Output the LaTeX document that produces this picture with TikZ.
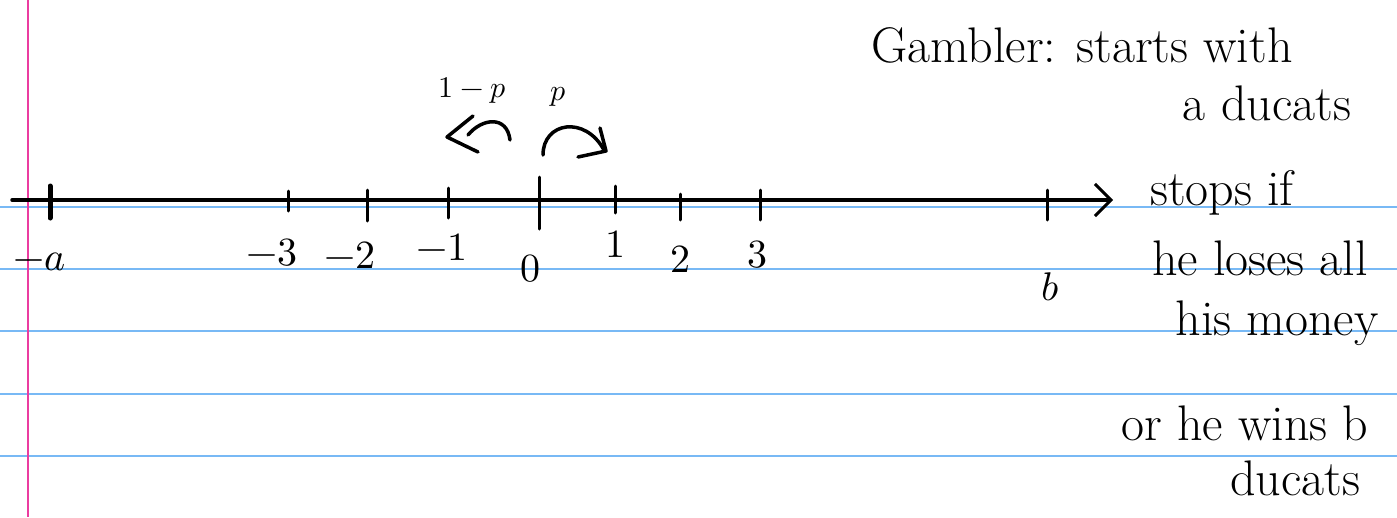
\documentclass[tikz,border=0pt]{standalone}
\usepackage{unicode-math}
\usetikzlibrary{arrows.meta}
\definecolor{ruleblue}{RGB}{120,185,245}
\definecolor{marginpink}{RGB}{235,60,160}
\begin{document}
\begin{tikzpicture}[x=1pt,y=-1pt,
  ink/.style={line width=3.5pt, line cap=round, line join=round},
  tickmark/.style={line width=3pt, line cap=round},
  lbl/.style={font=\fontsize{40}{44}\selectfont, anchor=base, inner sep=0pt},
  plbl/.style={font=\fontsize{30}{34}\selectfont, anchor=base, inner sep=0pt},
  note/.style={font=\fontsize{50}{54}\selectfont, anchor=base, inner sep=0pt}]
\useasboundingbox (0,0) rectangle (1397,517);
\fill[white] (0,0) rectangle (1397,517);
% ruled paper
\foreach \y in {207,269,331,394,456}
  \draw[ruleblue, line width=1.6pt] (0,\y) -- (1397,\y);
\draw[marginpink, line width=1.5pt] (28,0) -- (28,517);
% axis
\coordinate (axL) at (12,200);
\coordinate (axR) at (1113,200);
\draw[ink, -{Straight Barb[length=16pt,width=32pt,line width=3pt]}] (axL) -- (axR);
% ticks
\draw[line width=5pt, line cap=round] (50,186) -- (50,218);
\foreach \x/\t/\b in {288/191/211, 367/190/221, 448/188/218, 539/177/229, 615/186/213, 680/194/220, 760/190/220, 1047/190/220}
  \draw[tickmark] (\x,\t) -- (\x,\b);
% tick labels
\node[lbl] (la) at (40,270) {$-a$};
\node[lbl] (l3m) at (272,265) {$-3$};
\node[lbl] (l2m) at (350,268) {$-2$};
\node[lbl] (l1m) at (442,260) {$-1$};
\node[lbl] (l0) at (530,281) {$0$};
\node[lbl] (l1) at (615,257) {$1$};
\node[lbl] (l2) at (680,272) {$2$};
\node[lbl] (l3) at (757,267) {$3$};
\node[lbl] (lb) at (1050,300) {$b$};
% step labels
\node[plbl] (qlab) at (472,97) {$1-p$};
\node[plbl] (plab) at (558,100) {$p$};
% left curved arrow
\coordinate (lS) at (510,140);
\coordinate (lE) at (468,135);
\draw[ink] (lS) .. controls (507,115) and (482,118) .. (lE);
\draw[ink] (473,116) -- (447,137) -- (478,152);
% right curved arrow
\coordinate (rS) at (543,155);
\coordinate (rE) at (604,150);
\draw[ink] (rS) .. controls (543,122) and (585,115) .. (rE);
\draw[ink] (600,128) -- (606,151) -- (578,157);
% notes
\node[note] (n1) at (1082,62) {Gambler: starts with};
\node[note] (n2) at (1267,120) {a ducats};
\node[note] (n3) at (1222,205) {stops if};
\node[note] (n4) at (1260,275) {he loses all};
\node[note] (n5) at (1277,335) {his money};
\node[note] (n6) at (1245,440) {or he wins b};
\node[note] (n7) at (1295,495) {ducats};
\end{tikzpicture}
\end{document}
